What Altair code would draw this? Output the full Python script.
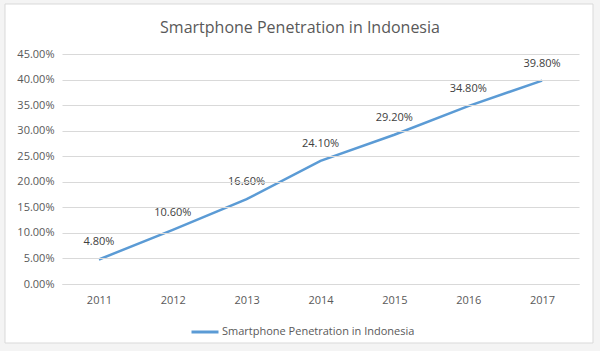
import altair as alt
import pandas as pd

years = ["2011", "2012", "2013", "2014", "2015", "2016", "2017"]
values = [4.8, 10.6, 16.6, 24.1, 29.2, 34.8, 39.8]
labels = ["4.80%", "10.60%", "16.60%", "24.10%", "29.20%", "34.80%", "39.80%"]
series = "Smartphone Penetration in Indonesia"
title_text = "Smartphone Penetration in Indonesia"
y_ticks = [0, 5, 10, 15, 20, 25, 30, 35, 40, 45]

df = pd.DataFrame({"year": years, "value": values, "label": labels, "series": [series] * len(years)})

FONT = "Open Sans"
GREY = "#595959"

frame = alt.Chart(pd.DataFrame({"a": [0]})).mark_rect(
    fill="white", stroke="#d9d9d9", strokeWidth=1
).encode(
    x=alt.value(-57), x2=alt.value(531), y=alt.value(-50), y2=alt.value(289)
)

title = alt.Chart(pd.DataFrame({"t": [title_text]})).mark_text(
    font=FONT, fontSize=16, color=GREY, baseline="middle", align="center"
).encode(x=alt.value(238), y=alt.value(-26), text="t:N")

x_enc = alt.X("year:N", sort=years, title=None,
              scale=alt.Scale(paddingInner=0, paddingOuter=0.5),
              axis=alt.Axis(labelAngle=0, domain=True, domainColor="#d9d9d9", ticks=False,
                            labelColor=GREY, labelFont=FONT, labelFontSize=11, labelPadding=10,
                            grid=False, zindex=1))
y_enc = alt.Y("value:Q", title=None,
              scale=alt.Scale(domain=[0, 45], nice=False),
              axis=alt.Axis(values=y_ticks, labelExpr="format(datum.value, '.2f') + '%'",
                            domain=False, ticks=False, grid=True, gridColor="#d9d9d9",
                            labelColor=GREY, labelFont=FONT, labelFontSize=11, labelPadding=8,
                            labelOverlap=False, zindex=1))

line = alt.Chart(df).mark_line(strokeWidth=2.5, color="#5b9bd5").encode(
    x=x_enc, y=y_enc,
    color=alt.Color("series:N", scale=alt.Scale(range=["#5b9bd5"]),
                    legend=alt.Legend(title=None, orient="none", legendX=128, legendY=263,
                                      symbolType="stroke", symbolSize=729, symbolStrokeWidth=3,
                                      labelFont=FONT, labelFontSize=11, labelColor=GREY,
                                      labelOffset=2, labelLimit=400, zindex=1))
)

text = alt.Chart(df).mark_text(dy=-17, font=FONT, fontSize=11, color="#404040").encode(
    x=x_enc, y=y_enc, text="label:N"
)

chart = alt.layer(frame, title, line, text).properties(
    width=517, height=230,
    padding={"left": 62, "top": 54, "right": 21, "bottom": 67},
    autosize=alt.AutoSizeParams(type="none"),
    background="#f4f4f4",
).configure_view(stroke=None).configure_axis(labelFont=FONT)

chart.save("out.html", embed_options={"renderer": "svg", "actions": False})
